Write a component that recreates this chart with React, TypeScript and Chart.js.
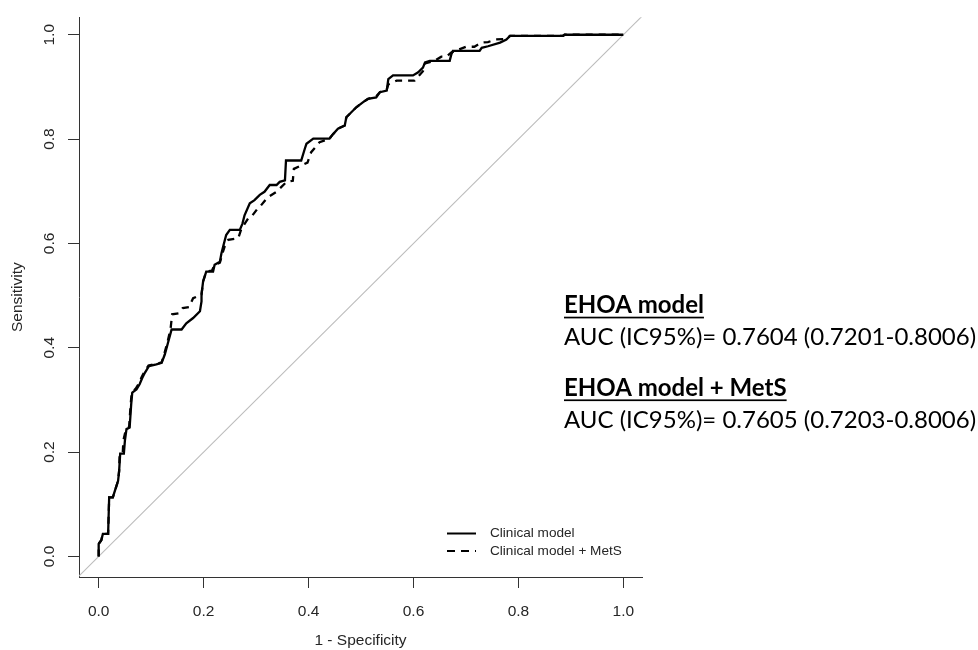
import React, { useEffect, useRef } from "react";
import { Chart, registerables } from "chart.js";

Chart.register(...registerables);

// ---- data ----
const xTickValues = [0, 0.2, 0.4, 0.6, 0.8, 1.0];
const yTickValues = [0, 0.2, 0.4, 0.6, 0.8, 1.0];
const xRange = [-0.0375, 1.0355];
const yRange = [-0.0395, 1.0335];

const seriesLabels = ["Clinical model", "Clinical model + MetS"];
const xTitle = "1 - Specificity";
const yTitle = "Sensitivity";

const clinicalFpr = [
  0, 0, 0.005, 0.008, 0.018, 0.02, 0.027, 0.031, 0.037, 0.039, 0.041, 0.048, 0.05, 0.053, 0.059, 0.062,
  0.064, 0.072, 0.078, 0.083, 0.088, 0.096, 0.11, 0.12, 0.126, 0.132, 0.139, 0.158, 0.167, 0.18, 0.193,
  0.196, 0.196, 0.199, 0.205, 0.218, 0.221, 0.231, 0.234, 0.238, 0.243, 0.25, 0.269, 0.274, 0.278, 0.288,
  0.297, 0.307, 0.316, 0.326, 0.339, 0.345, 0.355, 0.357, 0.386, 0.393, 0.396, 0.409, 0.44, 0.447, 0.456,
  0.469, 0.472, 0.482, 0.491, 0.504, 0.513, 0.529, 0.536, 0.549, 0.552, 0.561, 0.599, 0.609, 0.618, 0.622,
  0.631, 0.669, 0.672, 0.675, 0.726, 0.73, 0.742, 0.765, 0.777, 0.784, 0.885, 0.888, 1.0,
];
const clinicalTpr = [
  0, 0.024, 0.031, 0.043, 0.043, 0.113, 0.113, 0.126, 0.145, 0.164, 0.197, 0.197, 0.222, 0.244, 0.247, 0.292,
  0.314, 0.32, 0.33, 0.342, 0.352, 0.365, 0.368, 0.371, 0.387, 0.409, 0.435, 0.435, 0.447, 0.457, 0.47,
  0.489, 0.502, 0.527, 0.546, 0.546, 0.559, 0.565, 0.581, 0.597, 0.616, 0.626, 0.626, 0.638, 0.654, 0.677,
  0.683, 0.693, 0.699, 0.712, 0.712, 0.718, 0.721, 0.759, 0.759, 0.782, 0.791, 0.801, 0.801, 0.81, 0.82,
  0.826, 0.842, 0.852, 0.861, 0.871, 0.877, 0.88, 0.89, 0.893, 0.915, 0.922, 0.922, 0.928, 0.937, 0.947,
  0.95, 0.95, 0.962, 0.969, 0.969, 0.975, 0.978, 0.985, 0.991, 0.998, 0.998, 1.0, 1.0,
];

const metsFpr = [
  0, 0, 0.005, 0.008, 0.018, 0.02, 0.027, 0.031, 0.037, 0.039, 0.04, 0.046, 0.047, 0.052, 0.058, 0.061,
  0.063, 0.071, 0.077, 0.082, 0.087, 0.095, 0.11, 0.12, 0.125, 0.131, 0.137, 0.14, 0.152, 0.16, 0.172,
  0.18, 0.196, 0.199, 0.205, 0.216, 0.221, 0.231, 0.236, 0.24, 0.247, 0.266, 0.272, 0.285, 0.291, 0.303,
  0.307, 0.32, 0.323, 0.339, 0.345, 0.358, 0.37, 0.372, 0.398, 0.405, 0.421, 0.44, 0.447, 0.456, 0.469,
  0.472, 0.482, 0.491, 0.504, 0.513, 0.529, 0.536, 0.549, 0.552, 0.568, 0.602, 0.618, 0.622, 0.64, 0.653,
  0.663, 0.672, 0.7, 0.716, 0.73, 0.742, 0.757, 0.777, 0.784, 0.885, 0.888, 1.0,
];
const metsTpr = [
  0, 0.024, 0.031, 0.043, 0.043, 0.113, 0.113, 0.126, 0.145, 0.164, 0.197, 0.2, 0.222, 0.244, 0.248, 0.292,
  0.314, 0.322, 0.332, 0.344, 0.354, 0.366, 0.369, 0.372, 0.388, 0.41, 0.436, 0.464, 0.466, 0.476, 0.478,
  0.495, 0.502, 0.527, 0.546, 0.548, 0.559, 0.563, 0.581, 0.594, 0.607, 0.61, 0.628, 0.648, 0.651, 0.667,
  0.67, 0.686, 0.689, 0.699, 0.705, 0.718, 0.72, 0.743, 0.755, 0.775, 0.794, 0.801, 0.81, 0.82, 0.826,
  0.842, 0.852, 0.861, 0.871, 0.877, 0.882, 0.89, 0.895, 0.905, 0.912, 0.912, 0.93, 0.945, 0.95, 0.958,
  0.958, 0.966, 0.977, 0.977, 0.985, 0.986, 0.991, 0.992, 0.998, 0.998, 1.0, 1.0,
];

const diagonalValues = [-0.05, 1.05];

const aucTitles = ["EHOA model", "EHOA model + MetS"];
const aucTexts = [
  "AUC (IC95%)= 0.7604 (0.7201-0.8006)",
  "AUC (IC95%)= 0.7605 (0.7203-0.8006)",
];

// ---- styles ----
const axisFont = { family: "'Liberation Sans', Arial, sans-serif", size: 15.5 };
const textColor = "#262626";
const axisColor = "#333333";

const annotationPlugin = {
  id: "rocAnnotations",
  afterDraw(chart: any) {
    const ctx = chart.ctx as CanvasRenderingContext2D;
    ctx.save();
    // legend
    const legX0 = 447;
    const legX1 = 476;
    const legRows = [533.5, 551];
    ctx.strokeStyle = "#000";
    ctx.lineWidth = 2;
    legRows.forEach((y, i) => {
      ctx.setLineDash(i === 0 ? [] : [8, 6]);
      ctx.beginPath();
      ctx.moveTo(legX0, y);
      ctx.lineTo(legX1, y);
      ctx.stroke();
    });
    ctx.setLineDash([]);
    ctx.fillStyle = textColor;
    ctx.font = "13.6px 'Liberation Sans', Arial, sans-serif";
    ctx.textBaseline = "middle";
    ctx.textAlign = "left";
    legRows.forEach((y, i) => ctx.fillText(seriesLabels[i], 490, y));

    // AUC annotations
    const ax = 564;
    const titleBase = [313.3, 396];
    const textBase = [345, 428.3];
    ctx.textBaseline = "alphabetic";
    ctx.fillStyle = "#000";
    aucTitles.forEach((t, i) => {
      ctx.font = "bold 24px Lato, 'Open Sans', sans-serif";
      ctx.fillText(t, ax, titleBase[i]);
      const w = ctx.measureText(t).width;
      ctx.fillRect(ax, titleBase[i] + 3.4, w, 1.7);
      ctx.font = "24px Lato, 'Open Sans', sans-serif";
      ctx.fillText(aucTexts[i], ax, textBase[i]);
    });
    ctx.restore();
  },
};

export default function App() {
  const canvasRef = useRef<HTMLCanvasElement | null>(null);

  useEffect(() => {
    if (!canvasRef.current) return;
    const toPts = (xs: number[], ys: number[]) => xs.map((x, i) => ({ x, y: ys[i] }));
    const chart = new Chart(canvasRef.current, {
      type: "line",
      data: {
        datasets: [
          {
            label: seriesLabels[1],
            data: toPts(metsFpr, metsTpr),
            borderColor: "#000",
            borderWidth: 2.3,
            borderDash: [7, 6],
            pointRadius: 0,
            tension: 0,
            fill: false,
            order: 1,
          },
          {
            label: seriesLabels[0],
            data: toPts(clinicalFpr, clinicalTpr),
            borderColor: "#000",
            borderWidth: 2.3,
            pointRadius: 0,
            tension: 0,
            fill: false,
            order: 2,
          },
          {
            label: "diagonal",
            data: toPts(diagonalValues, diagonalValues),
            borderColor: "#bcbcbc",
            borderWidth: 1.1,
            pointRadius: 0,
            fill: false,
            order: 3,
            clip: 0,
          } as any,
        ],
      },
      options: {
        animation: false,
        responsive: false,
        maintainAspectRatio: false,
        devicePixelRatio: 1,
        layout: { padding: { top: 15, right: 336, bottom: 0, left: 0 } },
        plugins: { legend: { display: false }, tooltip: { enabled: false } },
        scales: {
          x: {
            type: "linear",
            min: xRange[0],
            max: xRange[1],
            afterBuildTicks: (s: any) => {
              s.ticks = xTickValues.map((v) => ({ value: v }));
            },
            afterFit: (s: any) => {
              s.height = 73;
            },
            ticks: {
              callback: (v: any) => Number(v).toFixed(1),
              font: axisFont,
              color: textColor,
              padding: 14,
              maxRotation: 0,
              minRotation: 0,
              autoSkip: false,
            },
            grid: {
              display: true,
              drawOnChartArea: false,
              drawTicks: true,
              tickLength: 11,
              tickColor: axisColor,
              tickWidth: 1,
            },
            border: { display: true, color: axisColor, width: 1 },
            title: {
              display: true,
              text: xTitle,
              font: axisFont,
              color: textColor,
              padding: { top: 0, bottom: 0 },
            },
          },
          y: {
            type: "linear",
            min: yRange[0],
            max: yRange[1],
            afterBuildTicks: (s: any) => {
              s.ticks = yTickValues.map((v) => ({ value: v }));
            },
            afterFit: (s: any) => {
              s.width = 79;
            },
            ticks: {
              callback: (v: any) => Number(v).toFixed(1),
              font: axisFont,
              color: textColor,
              padding: 8,
              minRotation: 90,
              maxRotation: 90,
              crossAlign: "center",
              autoSkip: false,
            },
            grid: {
              display: true,
              drawOnChartArea: false,
              drawTicks: true,
              tickLength: 11,
              tickColor: axisColor,
              tickWidth: 1,
            },
            border: { display: true, color: axisColor, width: 1 },
            title: {
              display: true,
              text: yTitle,
              font: axisFont,
              color: textColor,
              padding: { top: 8, bottom: 0 },
            },
          },
        },
      },
      plugins: [annotationPlugin],
    });
    return () => chart.destroy();
  }, []);

  return (
    <div
      style={{
        position: "absolute",
        left: 0,
        top: 0,
        width: 978,
        height: 650,
        background: "#ffffff",
      }}
    >
      <canvas ref={canvasRef} width={978} height={650} style={{ width: 978, height: 650 }} />
    </div>
  );
}
